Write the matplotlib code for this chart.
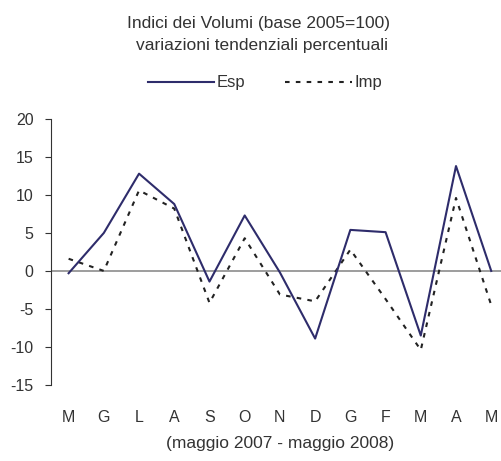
import matplotlib
matplotlib.use("Agg")
import matplotlib.pyplot as plt

plt.rcParams['font.family'] = ['Liberation Sans', 'DejaVu Sans']
plt.rcParams['axes.unicode_minus'] = False

mesi = ['M', 'G', 'L', 'A', 'S', 'O', 'N', 'D', 'G', 'F', 'M', 'A', 'M']
esp = [-0.3, 5.0, 12.8, 8.8, -1.4, 7.3, -0.2, -8.9, 5.4, 5.1, -8.5, 13.8, 0.0]
imp = [1.6, 0.0, 10.6, 8.2, -4.2, 4.3, -3.1, -4.0, 2.8, -3.7, -10.4, 9.6, -4.5]

txt = '#333333'
W, H = 502, 461
fig = plt.figure(figsize=(W / 100, H / 100), dpi=100)
ax = fig.add_axes([0.1016, 0.165, 0.912, 0.577])

x = range(len(mesi))
ax.axhline(0, color='#8c8c8c', lw=1.2, zorder=1)
l1, = ax.plot(x, esp, color='#2e2c6b', lw=1.5, label='Esp', zorder=3)
l2, = ax.plot(x, imp, color='#222222', lw=1.5, ls=(0, (2.2, 3.0)), label='Imp', zorder=2)

ax.set_xlim(-0.5, 12.5)
ax.set_ylim(-15, 20)
ax.set_yticks(range(-15, 21, 5))
ax.set_xticks(list(x))
ax.set_xticklabels(mesi)
for s in ['top', 'right', 'bottom']:
    ax.spines[s].set_visible(False)
ax.spines['left'].set_color('#333333')
ax.tick_params(axis='x', length=0, pad=18, labelsize=11.5, colors=txt)
ax.tick_params(axis='y', length=4.5, pad=8, labelsize=11.5, colors=txt, color='#333333')
ax.set_xlabel('(maggio 2007 - maggio 2008)', fontsize=12.5, color=txt, labelpad=8)

fig.text(259 / W, 1 - 28 / H, 'Indici dei Volumi (base 2005=100)',
         ha='center', va='baseline', fontsize=12.5, color=txt)
fig.text(262 / W, 1 - 50 / H, 'variazioni tendenziali percentuali',
         ha='center', va='baseline', fontsize=12.5, color=txt)
fig.legend(handles=[l1, l2], loc='center', bbox_to_anchor=(265 / W, 1 - 83 / H), ncol=2,
           frameon=False, fontsize=12, handlelength=4.0, columnspacing=2.4,
           handletextpad=0.15, labelcolor=txt)

fig.savefig('out.png', dpi=100)
